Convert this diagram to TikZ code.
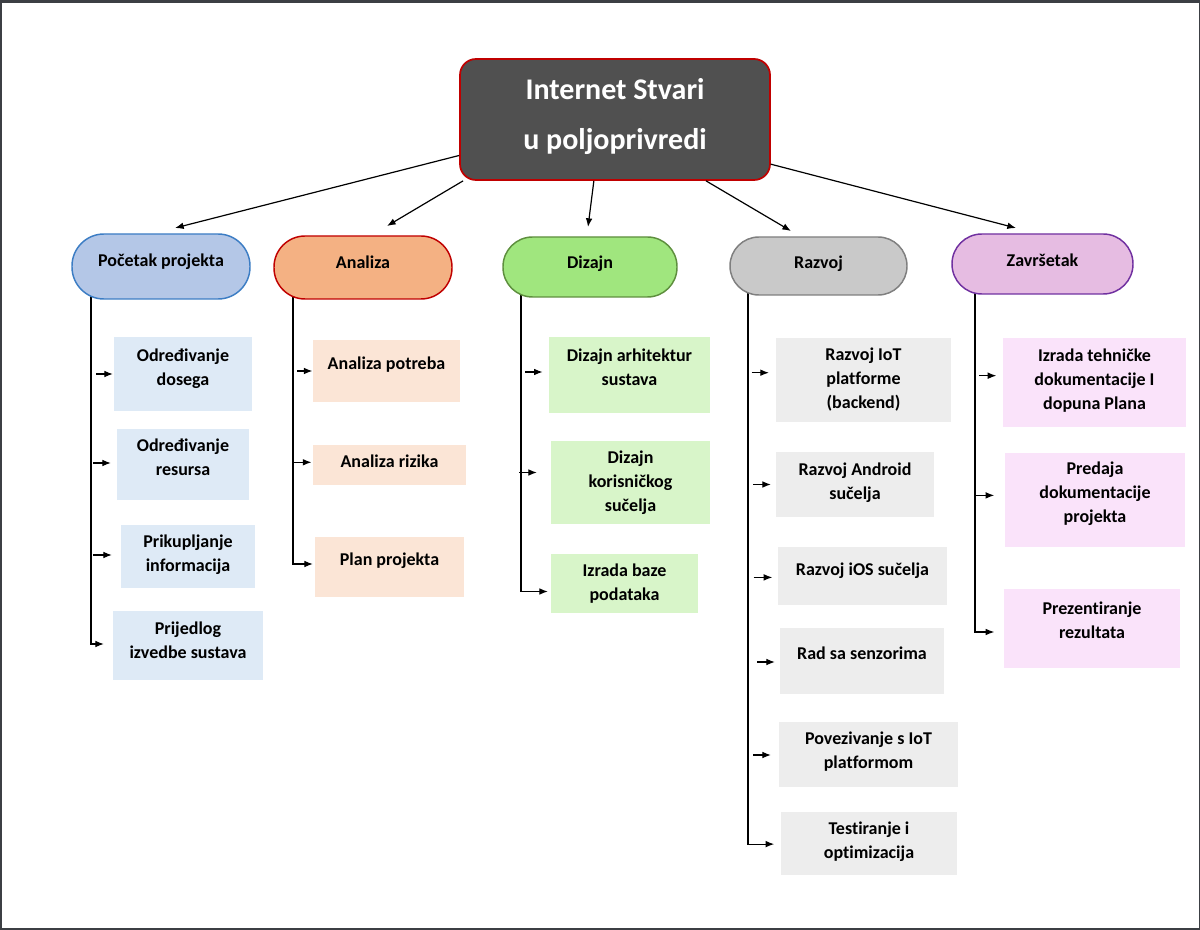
\documentclass[tikz,border=0pt]{standalone}
\usepackage{fontspec}
\setmainfont{Carlito}[Ligatures={NoCommon,NoRequired,NoContextual}]
\usetikzlibrary{arrows.meta,calc,backgrounds}

% one drawing unit = one pixel of a 1200 x 930 page
\newlength\pxu \setlength\pxu{0.75pt}
% centred block of lines, shifted up by #1 units without changing its size
\newcommand\lift[2]{\raisebox{#1\pxu}[\height][\depth]{\begin{tabular}{@{}c@{}}#2\end{tabular}}}
% short arrow pointing at the left side of a task box
\newcommand\twig[4]{\draw[arr] ($(#1.west)+(#2,#4)$) -- ($(#1.west)+(#3,#4)$);}

\definecolor{framec}{HTML}{3C3F44}
\definecolor{rootfill}{HTML}{505050}
\definecolor{rootline}{HTML}{C00000}
\definecolor{blueP}{HTML}{B4C7E7}
\definecolor{blueB}{HTML}{3C7DC4}
\definecolor{blueT}{HTML}{DEEAF6}
\definecolor{orangeP}{HTML}{F4B183}
\definecolor{orangeB}{HTML}{C00000}
\definecolor{orangeT}{HTML}{FBE5D6}
\definecolor{greenP}{HTML}{A0E67E}
\definecolor{greenB}{HTML}{5E8F3E}
\definecolor{greenT}{HTML}{D8F5C9}
\definecolor{grayP}{HTML}{C9C9C9}
\definecolor{grayB}{HTML}{7F7F7F}
\definecolor{grayT}{HTML}{EDEDED}
\definecolor{pinkP}{HTML}{E6BCE2}
\definecolor{pinkB}{HTML}{7030A0}
\definecolor{pinkT}{HTML}{FAE3FA}

\tikzset{
  % place a box by its left, top, right and bottom edges
  spot/.style n args={4}{at={({(#1+#3)/2},{(#2+#4)/2})},
    minimum width={(#3-#1)*0.75pt}, minimum height={(#4-#2)*0.75pt}},
  task/.style={rectangle, inner sep=0pt, outer sep=0pt, text=black,
    font=\fontsize{13.5}{18}\selectfont\bfseries},
  phase/.style={rectangle, inner sep=0pt, outer sep=0pt, line width=1.1pt, text=black,
    font=\fontsize{13.5}{18}\selectfont\bfseries},
  arr/.style={-{Latex[length=6.5pt,width=5pt]}, line width=0.9pt, black},
  trunk/.style={line width=1.1pt, black},
}

\begin{document}
\begin{tikzpicture}[x=0.75pt, y=-0.75pt]
\useasboundingbox (0,0) rectangle (1200,930);

% title
\node[rectangle, inner sep=0pt, spot={460}{59}{770}{180}, fill=rootfill, draw=rootline,
      line width=1.3pt, rounded corners=12pt, text=white,
      font=\fontsize{22.5}{37.5}\selectfont\bfseries] (root) {\lift{4.5}{Internet Stvari\\u poljoprivredi}};

% phases
\node[phase, spot={72}{234}{250}{299}, fill=blueP, draw=blueB, rounded corners=24pt] (h1) {\lift{5}{Početak projekta}};
\node[phase, spot={274}{236}{452}{299}, fill=orangeP, draw=orangeB, rounded corners=23.3pt] (h2) {\lift{3.5}{Analiza}};
\node[phase, spot={503}{237}{677}{297}, fill=greenP, draw=greenB, rounded corners=22.2pt] (h3) {\lift{3}{Dizajn}};
\node[phase, spot={730}{237}{907}{295}, fill=grayP, draw=grayB, rounded corners=21.7pt] (h4) {\lift{2.5}{Razvoj}};
\node[phase, spot={952}{234}{1133}{294}, fill=pinkP, draw=pinkB, rounded corners=22.4pt] (h5) {\lift{2}{Završetak}};

% tasks: Početak projekta
\node[task, fill=blueT, spot={114}{337}{252}{411}] (c11) {\lift{5.5}{Određivanje\\dosega}};
\node[task, fill=blueT, spot={117}{429}{249}{500}] (c12) {\lift{5.5}{Određivanje\\resursa}};
\node[task, fill=blueT, spot={121}{525}{255}{588}] (c13) {\lift{1.5}{Prikupljanje\\informacija}};
\node[task, fill=blueT, spot={113}{611}{263}{680}] (c14) {\lift{3.5}{Prijedlog\\izvedbe sustava}};

% tasks: Analiza
\node[task, fill=orangeT, spot={313}{340}{460}{402}] (c21) {\lift{6}{Analiza potreba}};
\node[task, fill=orangeT, spot={313}{445}{466}{485}] (c22) {\lift{2}{Analiza rizika}};
\node[task, fill=orangeT, spot={315}{537}{464}{597}] (c23) {\lift{6.3}{Plan projekta}};

% tasks: Dizajn
\node[task, fill=greenT, spot={549}{337}{710}{413}] (c31) {\lift{6}{Dizajn arhitektur\\sustava}};
\node[task, fill=greenT, spot={551}{441}{710}{524}] (c32) {\lift{0}{Dizajn\\korisničkog\\sučelja}};
\node[task, fill=greenT, spot={551}{554}{698}{613}] (c33) {\lift{0}{Izrada baze\\podataka}};

% tasks: Razvoj
\node[task, fill=grayT, spot={776}{338}{951}{422}] (c41) {\lift{0}{Razvoj IoT\\platforme\\(backend)}};
\node[task, fill=grayT, spot={776}{452}{934}{517}] (c42) {\lift{2}{Razvoj Android\\sučelja}};
\node[task, fill=grayT, spot={778}{547}{947}{605}] (c43) {\lift{5.6}{Razvoj iOS sučelja}};
\node[task, fill=grayT, spot={780}{628}{944}{694}] (c44) {\lift{6.3}{Rad sa senzorima}};
\node[task, fill=grayT, spot={779}{722}{958}{787}] (c45) {\lift{2.5}{Povezivanje s IoT\\platformom}};
\node[task, fill=grayT, spot={781}{812}{957}{875}] (c46) {\lift{2}{Testiranje i\\optimizacija}};

% tasks: Završetak
\node[task, fill=pinkT, spot={1003}{338}{1186}{427}] (c51) {\lift{2}{Izrada tehničke\\dokumentacije I\\dopuna Plana}};
\node[task, fill=pinkT, spot={1005}{453}{1185}{547}] (c52) {\lift{5.8}{Predaja\\dokumentacije\\projekta}};
\node[task, fill=pinkT, spot={1004}{589}{1180}{668}] (c53) {\lift{6.8}{Prezentiranje\\rezultata}};

% arrows from the title to the phases
\coordinate (t1) at (175,228);
\coordinate (t2) at (387,226);
\coordinate (t3) at (588,227);
\coordinate (t4) at (791,231);
\coordinate (t5) at (1016,228);
\draw[arr] (root.193) -- (t1);
\draw[arr] (root.202) -- (t2);
\draw[arr] (root.251) -- (t3);
\draw[arr] (root.326) -- (t4);
\draw[arr] (root.344) -- (t5);

% x positions of the vertical lines under each phase
\coordinate (L1) at (91,0);
\coordinate (L2) at (293,0);
\coordinate (L3) at (521,0);
\coordinate (L4) at (748,0);
\coordinate (L5) at (975,0);

% short arrows towards the tasks
\twig{c11}{-18}{-1}{0}
\twig{c12}{-24}{-6}{-1.5}
\twig{c13}{-28}{-9}{-1.5}
\twig{c21}{-16}{-0.5}{0}
\twig{c22}{-20}{-1.5}{-2.7}
\twig{c31}{-24}{-6.3}{-3}
\twig{c32}{-32}{-14}{-10}
\twig{c41}{-24.3}{-7}{-7.3}
\twig{c42}{-23}{-5}{0}
\twig{c43}{-24.3}{-5.6}{1.4}
\twig{c44}{-23}{-5}{1}
\twig{c45}{-26}{-8}{0.5}
\twig{c51}{-24}{-6.6}{-6.8}
\twig{c52}{-31}{-10.7}{-4.6}

% frame and vertical lines, kept behind the boxes
\begin{scope}[on background layer]
  \fill[framec] (0,0) rectangle (1200,930);
  \fill[white] (1.5,3) rectangle (1199,928);
  \draw[trunk, arr] (h1.center -| L1) |- ($(c14.west)+(-9,-1.5)$);
  \draw[trunk, arr] (h2.center -| L2) |- ($(c23.west)+(-2,-3)$);
  \draw[trunk, arr] (h3.center -| L3) |- ($(c33.west)+(-3,8)$);
  \draw[trunk, arr] (h4.center -| L4) |- ($(c46.west)+(-6.7,0.6)$);
  \draw[trunk, arr] (h5.center -| L5) |- ($(c53.west)+(-9.7,3.5)$);
\end{scope}
\end{tikzpicture}
\end{document}
